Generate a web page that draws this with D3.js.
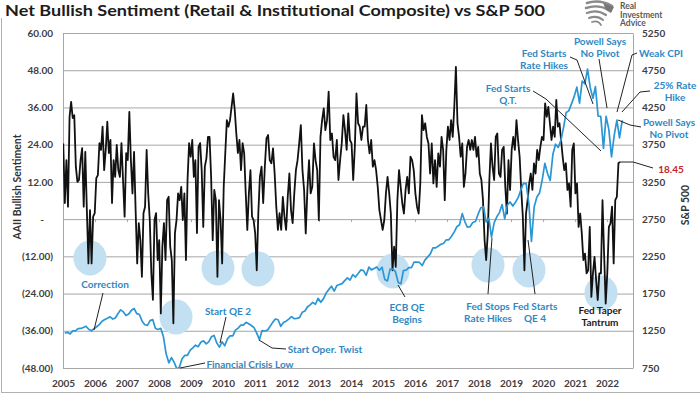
<!DOCTYPE html>
<html>
<head>
<meta charset="utf-8">
<script src="https://cdn.jsdelivr.net/npm/d3@7"></script>
<style>
  body { margin: 0; background: #fff; }
  svg { display: block; font-family: Lato, "Open Sans", sans-serif; }
</style>
</head>
<body>
<svg id="chart" width="700" height="394"></svg>
<script>
// Net bullish sentiment (weekly readings in three stretches)
const sentimentA = [24.4, 5.2, 19, 4, 33, 37.8, 32.6, 33.5, 16.9, 12,
  12.6, 19, 22.9, 4, 21.7, 2.9, -14.3, 2.9, -14.3, 0.8,
  1.9, 13.2, 14.2, 24.5, 22.3, 29.8, 15.8, 22.3, 31.4, 21.3,
  25.5, 5.2, 19, 13.6, 23.9, 15.8, 13.6, 24.5, 12.6, 0.8,
  21.3, 19, 34.6, 19, 8.3, 21.7, 2.9, -14.3, -1.3, -6.8,
  -18.6, 1.9, 4, 22.3, 8.3, -0.3, -17.5, -26, -0.3, 1.9,
  -13.2, -6.8, -30.4, -8.9, -1.3, -13.2, 6.1, 7.2, -8.9, -13.2,
  -33.6, -4.5, -0.3, 8.3, 6.1, 10.4, -0.3, 8.3, -13.2, 12.6,
  24.5, 20.1, 25.5, 13.6, 19, -4.5, 23.3, 24.5, 15.8, -2.5,
  16.9, 19.6, 26.5, 26.5, 13.6, -6.8, 9.4, 6.1, -18.6, 6.1,
  -0.3, -14.3, 10.4, 21.3, 31.9, 29.8, 31.9, 36.2, 40.5, 35.2,
  27.7, 21.3, 25.5, 15.8, 24.5, 21.3, 8.3, -3.5, 8.3, 15.8,
  0.8, -0.3, -4.5, -16.5, 1.9, 13.6];
const sentimentB = [16.9, 5.2, 16.9, 26, 27.1, 19, 18, 22.8, 14.7,
  4, -3.5, 1.9, -3.5, 7.2, 0.8, -3.5, 7.2, 14.7, 2.9,
  -1.3, 8.3, 15.8, 19, 24.4, 30.3, 15.8, 9.4, -4.6, 9.4,
  19, 8.3, 10.4, 24.4, 19, 15.8, -0.3, 26.5, 31.9, 35.7,
  28.7, 31.9, 41.1, 25.5, 27.6, 20.1, 19, 25.5, 12.6, 19,
  24.4, 33.5, 28.7, 22.3, 34.1, 25.5, 24.4, 12.6, 23.3, 40.5,
  30.9, 29.8, 25.5, 29.8, 29.8, 36.8, 25.5, 21.2, 25.5, 16.9,
  19, 15.8, 10.4, 2.9, -0.3, -3.5, -0.3, 8.3, 13.6, 8.3,
  1.8, -16.5, -8.9, -15.4, 6.1, 15.8, 10.4, 5.1, 1.8, 9.4,
  13.6, 8.3, 20.1, 19, 15.8, 8.3, 4, 1.8, 11.5, 33.5,
  28.7, 30.9, 26.5, 24.4, 14.7, 24.4, 11.5, 19, 10.4, 21.2];
const sentimentC = [16.9, 26.5, 22.3, 6.1, 22.3, 29.8, 25.5, 31.9, 26.5, 36.2,
  49.1, 30.9, 26.5, 20.1, 24.4, 10.4, 14.7, 23.3, 25.5, 22.3,
  25.5, 22.3, 26.5, 20.1, 23.3, 14.7, 12.6, 6.1, -6.8, -13.2,
  -4.6, 12.6, 24.4, 16.9, 12.6, 26.5, 27.6, 14.7, 13.6, 22.3,
  23.3, 10.4, 1.8, 19, 9.4, 22.3, 26.5, 22.3, 31.9, 25.5,
  20.1, 9.4, 0.8, -16.5, 1.8, 6.1, 11.5, 14.7, 9.4, 18,
  14.7, 22.3, 19, 23.3, 26.5, 25.5, 37.3, 33, 36.2, 30.9,
  25.5, 29.8, 26.5, 38.4, 29.8, 30.9, 25.5, 20.1, 15.8, 18,
  9.4, 11.5, 4, 22.3, 24.4, 8.3, 11.5, -2.5, 1.8, -4.6,
  -13.2, -11.1, -17.5, -16.5, -2.5, -25.1, -17.5, -12.2, -19.7, -26.1,
  -17.5, -17.5, 6.1, -11.1, -27.2, -17.5, -2.5, -1.4, 4, -14.3,
  6.1, 7.2, 18, 18.45];
// first and last week covered by each stretch
const sentimentSpans = [
  ["2005-08-11", "2011-10-03"],
  ["2011-10-22", "2017-04-30"],
  ["2017-05-19", "2023-01-03"]
];

// S&P 500, month end, Aug 2005 .. Jan 2023
const spx2005 = [1220, 1229, 1207, 1249, 1248];
const spx2006 = [1280, 1281, 1295, 1311, 1270, 1250, 1277, 1304, 1336, 1378, 1401, 1418];
const spx2007 = [1438, 1407, 1421, 1482, 1531, 1503, 1455, 1474, 1527, 1549, 1481, 1468];
const spx2008 = [1379, 1331, 1323, 1386, 1400, 1280, 1267, 1283, 1166, 940, 820, 890];
const spx2009 = [826, 735, 760, 873, 919, 919, 987, 1021, 1057, 1036, 1096, 1115];
const spx2010 = [1074, 1104, 1169, 1187, 1089, 1031, 1102, 1049, 1141, 1183, 1181, 1258];
const spx2011 = [1286, 1327, 1326, 1364, 1345, 1321, 1292, 1219, 1131, 1253, 1247, 1258];
const spx2012 = [1312, 1366, 1408, 1398, 1310, 1362, 1379, 1407, 1441, 1412, 1416, 1426];
const spx2013 = [1498, 1515, 1569, 1598, 1631, 1606, 1686, 1633, 1682, 1757, 1806, 1848];
const spx2014 = [1783, 1859, 1872, 1884, 1924, 1960, 1931, 2003, 1972, 2018, 2068, 2059];
const spx2015 = [1995, 2105, 2068, 2086, 2107, 2063, 2104, 1940, 1920, 2079, 2080, 2044];
const spx2016 = [1900, 1880, 2060, 2065, 2097, 2099, 2174, 2171, 2168, 2126, 2199, 2239];
const spx2017 = [2279, 2364, 2363, 2384, 2412, 2423, 2470, 2472, 2519, 2575, 2648, 2674];
const spx2018 = [2824, 2714, 2641, 2648, 2705, 2718, 2816, 2902, 2914, 2712, 2760, 2507];
const spx2019 = [2704, 2784, 2834, 2946, 2752, 2942, 2980, 2926, 2977, 3038, 3141, 3231];
const spx2020 = [3226, 2954, 2450, 2912, 3044, 3100, 3271, 3500, 3363, 3270, 3622, 3756];
const spx2021 = [3714, 3811, 3973, 4181, 4204, 4298, 4395, 4523, 4308, 4605, 4567, 4766];
const spx2022 = [4516, 4374, 4530, 4132, 4132, 3700, 4130, 3955, 3586, 3872, 4080, 3840];
const spx2023 = [4077];

const years = d3.range(2005, 2023);
const leftTicks = d3.range(-48, 61, 12);
const rightTicks = d3.range(750, 5251, 500);

const blue = "#2f88c3";

const svg = d3.select("#chart");
const parse = d3.timeParse("%Y-%m-%d");

// plot box
const plotLeft = 63, plotRight = 633, plotTop = 33, plotBottom = 368;

const x = d3.scaleTime()
  .domain([new Date(2005, 7, 8), new Date(2023, 4, 31)])
  .range([plotLeft, plotRight]);
const yL = d3.scaleLinear().domain([-48, 60]).range([plotBottom, plotTop]);
const yR = d3.scaleLinear().domain([750, 5250]).range([plotBottom, plotTop]);

// build series
const sentiment = [];
[sentimentA, sentimentB, sentimentC].forEach((vals, k) => {
  const t0 = +parse(sentimentSpans[k][0]), t1 = +parse(sentimentSpans[k][1]);
  vals.forEach((v, i) => {
    sentiment.push({ date: new Date(t0 + (t1 - t0) * i / (vals.length - 1)), v });
  });
});
const spxAll = [].concat(spx2005, spx2006, spx2007, spx2008, spx2009, spx2010, spx2011,
  spx2012, spx2013, spx2014, spx2015, spx2016, spx2017, spx2018, spx2019, spx2020,
  spx2021, spx2022, spx2023);
const spx = spxAll.map((v, i) => ({ date: new Date(2005, 7 + i, 28), v }));

// outer frame bits
svg.append("line").attr("x1", 1.5).attr("x2", 1.5).attr("y1", 18).attr("y2", 393)
  .attr("stroke", "#b0b0b0");
svg.append("line").attr("x1", 1).attr("x2", 700).attr("y1", 392.5).attr("y2", 392.5)
  .attr("stroke", "#b0b0b0");

// title
svg.append("text")
  .attr("x", 5).attr("y", 16)
  .attr("font-size", 16).attr("font-weight", 700).attr("fill", "#1c1c1c")
  .attr("textLength", 540).attr("lengthAdjust", "spacingAndGlyphs")
  .text("Net Bullish Sentiment (Retail & Institutional Composite) vs S&P 500");

// logo
const logo = svg.append("g").attr("fill", "none").attr("stroke", "#8a8a8a").attr("stroke-linecap", "round");
[["M587 3 Q600 -1 612 6", 2.6], ["M586 8 Q598 4 609 10", 2.4], ["M587 13 Q597 9 606 15", 2.2],
 ["M589 18 Q597 15 603 20", 2], ["M592 22 Q598 20 601 25", 1.8]].forEach(([d, w]) =>
  logo.append("path").attr("d", d).attr("stroke-width", w));
svg.append("path").attr("d", "M603 3 L614 7 L611 13 L606 10 Z").attr("fill", "#777");
const logoText = svg.append("text").attr("font-size", 8.5).attr("font-weight", 700).attr("fill", "#5a5a5a");
["Real", "Investment", "Advice"].forEach((t, i) =>
  logoText.append("tspan").attr("x", 620).attr("y", 9 + i * 8.5).text(t));

// left axis + gridlines
const fmtLeft = v => v === 0 ? "-" : v < 0 ? `(${Math.abs(v).toFixed(2)})` : v.toFixed(2);
const gL = svg.append("g")
  .attr("transform", `translate(${plotLeft},0)`)
  .call(d3.axisLeft(yL).tickValues(leftTicks).tickSize(-(plotRight - plotLeft)).tickPadding(10).tickFormat(fmtLeft));
gL.attr("font-family", null);
gL.select(".domain").attr("stroke", "#a6a6a6");
gL.selectAll(".tick line").attr("stroke", "#a6a6a6");
gL.selectAll(".tick text").attr("font-size", 10).attr("font-weight", 700).attr("fill", "#404040");
gL.selectAll(".tick").filter(d => d === 0).select("text").attr("dx", -9);

// right axis
const gR = svg.append("g")
  .attr("transform", `translate(${plotRight},0)`)
  .call(d3.axisRight(yR).tickValues(rightTicks).tickSize(0).tickSizeOuter(0).tickPadding(9).tickFormat(d3.format("d")));
gR.attr("font-family", null);
gR.select(".domain").attr("stroke", "#a6a6a6");
gR.selectAll(".tick text").attr("font-size", 10).attr("font-weight", 700).attr("fill", "#404040");

// x axis labels
const yearTicks = years.map(y => new Date(y, 7, 8));
const gX = svg.append("g")
  .attr("transform", `translate(0,${plotBottom})`)
  .call(d3.axisBottom(x).tickValues(yearTicks).tickSize(0).tickPadding(12).tickFormat(d3.timeFormat("%Y")));
gX.attr("font-family", null);
gX.select(".domain").remove();
gX.selectAll(".tick text").attr("font-size", 10).attr("font-weight", 700).attr("fill", "#404040");

// small ticks on the zero line
const gZ = svg.append("g")
  .attr("transform", `translate(0,${yL(0)})`)
  .call(d3.axisBottom(x).tickValues(yearTicks).tickSize(3).tickFormat(""));
gZ.select(".domain").remove();
gZ.selectAll(".tick line").attr("stroke", "#a6a6a6");

// axis titles
svg.append("text")
  .attr("transform", "translate(21,187) rotate(-90)")
  .attr("text-anchor", "middle").attr("font-size", 10.5).attr("font-weight", 700).attr("fill", "#333")
  .text("AAII Bullish Sentiment");
svg.append("text")
  .attr("transform", "translate(689,205) rotate(-90)")
  .attr("text-anchor", "middle").attr("font-size", 10.5).attr("font-weight", 700).attr("fill", "#333")
  .text("S&P 500");

// highlight circles
const circles = [[90, 258], [176, 317], [218, 268], [258, 269], [393, 271], [488, 265], [529, 270], [601, 293]];
svg.append("g").selectAll("ellipse").data(circles).join("ellipse")
  .attr("cx", d => d[0]).attr("cy", d => d[1]).attr("rx", 16.5).attr("ry", 17.5)
  .attr("fill", "#c3e0f2");

// lines
svg.append("clipPath").attr("id", "plotClip")
  .append("rect").attr("x", plotLeft).attr("y", plotTop)
  .attr("width", plotRight - plotLeft).attr("height", plotBottom - plotTop);

svg.append("path")
  .datum(sentiment)
  .attr("clip-path", "url(#plotClip)")
  .attr("fill", "none").attr("stroke", "#111").attr("stroke-width", 1.8).attr("stroke-linejoin", "round")
  .attr("d", d3.line().x(d => x(d.date)).y(d => yL(d.v)));

svg.append("path")
  .datum(spx)
  .attr("clip-path", "url(#plotClip)")
  .attr("fill", "none").attr("stroke", "#2a96d4").attr("stroke-width", 1.7).attr("stroke-linejoin", "round")
  .attr("d", d3.line().x(d => x(d.date)).y(d => yR(d.v)));

// annotation connectors
const connectors = [
  [[103, 293], [94, 330]],
  [[226, 317], [220, 343]],
  [[205, 363], [180, 368]],
  [[286, 349], [272, 348], [259, 340]],
  [[405, 297], [398, 285]],
  [[488, 294], [492, 238]],
  [[535, 294], [528, 240]],
  [[533, 91], [546, 99], [601, 151]],
  [[570, 57], [577, 60], [593, 104]],
  [[599, 59], [607, 108]],
  [[637, 53], [632, 55], [617, 112]],
  [[650, 91], [640, 92], [622, 112]],
  [[641, 127], [630, 125], [618, 120]],
  [[653, 168], [633, 162], [620, 162]]
];
svg.append("g").selectAll("path").data(connectors).join("path")
  .attr("d", d3.line())
  .attr("fill", "none").attr("stroke", "#222").attr("stroke-width", 1);

// annotation labels: [lines, x, first baseline, colour]
const labels = [
  [["Correction"], 105, 288, blue],
  [["Start QE 2"], 228, 315, blue],
  [["Financial Crisis Low"], 250, 368, blue],
  [["Start Oper. Twist"], 325, 353, blue],
  [["ECB QE", "Begins"], 407, 311, blue],
  [["Fed Stops", "Rate Hikes"], 488, 310, blue],
  [["Fed Starts", "QE 4"], 535, 310, blue],
  [["Fed Taper", "Tantrum"], 600, 314, "#1a1a1a"],
  [["Fed Starts", "Q.T."], 508, 92, blue],
  [["Fed Starts", "Rate Hikes"], 544, 57, blue],
  [["Powell Says", "No Pivot"], 600, 45, blue],
  [["Weak CPI"], 661, 57, blue],
  [["25% Rate", "Hike"], 675, 89, blue],
  [["Powell Says", "No Pivot"], 669, 126, blue],
  [["18.45"], 671, 173, "#c0272d"]
];
labels.forEach(([lines, lx, ly, col]) => {
  const t = svg.append("text")
    .attr("text-anchor", "middle").attr("font-size", 10).attr("font-weight", 700).attr("fill", col);
  lines.forEach((s, i) => t.append("tspan").attr("x", lx).attr("y", ly + i * 11.5).text(s));
});
</script>
</body>
</html>
